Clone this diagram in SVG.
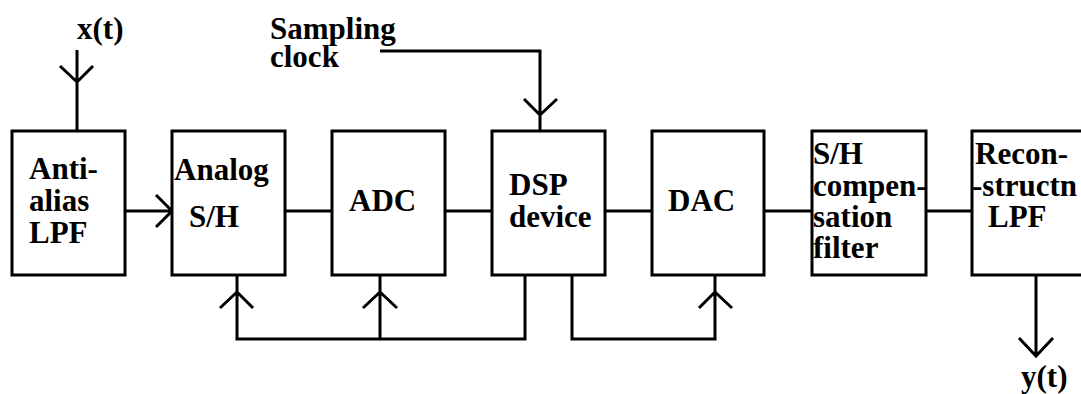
<svg xmlns="http://www.w3.org/2000/svg" width="1081" height="394" viewBox="0 0 1081 394">
<style>
.box{fill:#fff;stroke:#000;stroke-width:3}
.ln{fill:none;stroke:#000;stroke-width:3}
</style>
<rect width="1081" height="394" fill="#fff"/>
<g id="connectors">
<path class="ln" d="M77,50 V131 M60,66 L77,82 L93,66"/>
<path class="ln" d="M380,51 H540 V131 M524,99 L540,115 L557,99"/>
<path class="ln" d="M125,211 H172 M156,195 L172,211 L156,227"/>
<path class="ln" d="M285,211 H332 M445,211 H492 M605,211 H652 M764,211 H812 M926,211 H972"/>
<path class="ln" d="M525,275 V339 H237 V275 M220,308 L237,292 L253,308"/>
<path class="ln" d="M380,339 V275 M363,308 L380,292 L397,308"/>
<path class="ln" d="M572,275 V339 H715 V275 M699,308 L715,292 L732,308"/>
<path class="ln" d="M1036,275 V356 M1019,338 L1036,356 L1053,338"/>
</g>
<g font-family="Liberation Serif, DejaVu Serif, serif" font-weight="bold" font-size="31">
<g id="labels">
<text x="77" y="39">x(t)</text>
<text x="270" y="39">Sampling</text>
<text x="270" y="67">clock</text>
<text x="1021" y="387">y(t)</text>
</g>
<g id="antialias">
<rect class="box" x="12" y="131" width="113" height="144"/>
<text x="29" y="179">Anti-</text>
<text x="29" y="211">alias</text>
<text x="29" y="243">LPF</text>
</g>
<g id="sh">
<rect class="box" x="172" y="131" width="113" height="144"/>
<text x="174" y="180">Analog</text>
<text x="189" y="227">S/H</text>
</g>
<g id="adc">
<rect class="box" x="332" y="131" width="113" height="144"/>
<text x="349" y="211">ADC</text>
</g>
<g id="dsp">
<rect class="box" x="492" y="131" width="113" height="144"/>
<text x="509" y="195">DSP</text>
<text x="509" y="227">device</text>
</g>
<g id="dac">
<rect class="box" x="652" y="131" width="112" height="144"/>
<text x="668" y="211">DAC</text>
</g>
<g id="shcomp">
<rect class="box" x="812" y="131" width="114" height="144"/>
<text x="813" y="164">S/H</text>
<text x="813" y="196">compen-</text>
<text x="813" y="227">sation</text>
<text x="813" y="258">filter</text>
</g>
<g id="recon">
<rect class="box" x="972" y="131" width="113" height="144"/>
<text x="975" y="164">Recon-</text>
<text x="972" y="196">-structn</text>
<text x="988" y="227">LPF</text>
</g>
</g>
</svg>
